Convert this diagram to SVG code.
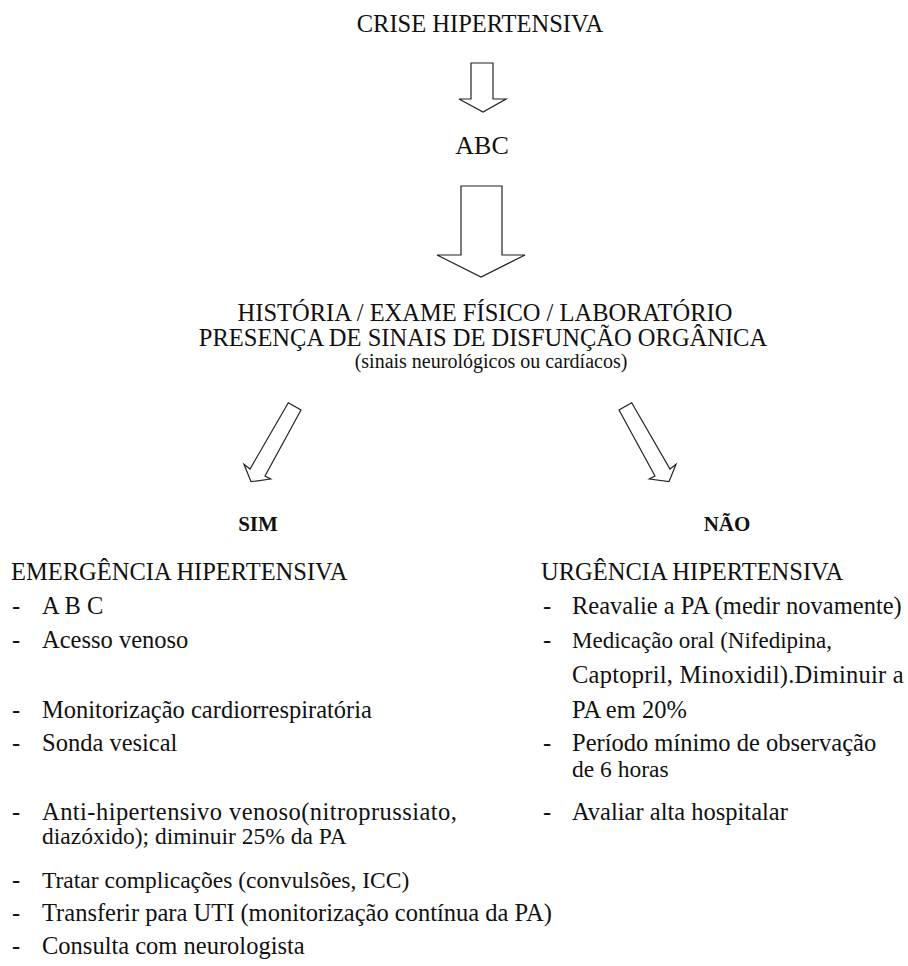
<svg xmlns="http://www.w3.org/2000/svg" width="908" height="966" viewBox="0 0 908 966">
<style>
text{font-family:"Liberation Serif","Times New Roman",serif;font-size:24.5px;fill:#111}
.c{text-anchor:middle}
.b{font-weight:bold;font-size:21px}
.s{font-size:20px}
.arrow{fill:#fff;stroke:#222;stroke-width:1.2;stroke-linejoin:miter}
</style>
<rect width="908" height="966" fill="#fff"/>
<g id="n-crise"><text class="c" x="480" y="32">CRISE HIPERTENSIVA</text></g>
<g id="n-abc"><text class="c" x="482" y="154" style="font-size:26px">ABC</text></g>
<g id="n-historia">
<text class="c" x="485" y="321">HISTÓRIA / EXAME FÍSICO / LABORATÓRIO</text>
<text class="c" x="483" y="346">PRESENÇA DE SINAIS DE DISFUNÇÃO ORGÂNICA</text>
<text class="c s" x="491" y="368">(sinais neurológicos ou cardíacos)</text>
</g>
<g id="n-sim"><text class="c b" x="258" y="531">SIM</text></g>
<g id="n-nao"><text class="c b" x="727" y="531">NÃO</text></g>
<g id="n-emergencia">
<text x="11" y="580">EMERGÊNCIA HIPERTENSIVA</text>
<text x="12" y="614">-</text><text x="42" y="614">A B C</text>
<text x="12" y="648">-</text><text x="42" y="648">Acesso venoso</text>
<text x="12" y="718">-</text><text x="42" y="718">Monitorização cardiorrespiratória</text>
<text x="12" y="751">-</text><text x="42" y="751">Sonda vesical</text>
<text x="12" y="820">-</text>
<text x="42" y="820"><tspan letter-spacing="0.45">Anti-hipertensivo venoso(nitroprussiato,</tspan><tspan x="42" y="844" style="font-size:23.5px">diazóxido); diminuir 25% da PA</tspan></text>
<text x="12" y="888">-</text><text x="42" y="888" style="font-size:23.5px">Tratar complicações (convulsões, ICC)</text>
<text x="12" y="921">-</text><text x="42" y="921">Transferir para UTI (monitorização contínua da PA)</text>
<text x="12" y="954">-</text><text x="42" y="954">Consulta com neurologista</text>
</g>
<g id="n-urgencia">
<text x="541" y="580">URGÊNCIA HIPERTENSIVA</text>
<text x="543" y="614">-</text><text x="572" y="614">Reavalie a PA (medir novamente)</text>
<text x="543" y="648">-</text><text x="572" y="648" style="font-size:23px">Medicação oral (Nifedipina,</text>
<text x="572" y="683" letter-spacing="0.25">Captopril, Minoxidil).Diminuir a</text>
<text x="572" y="718">PA em 20%</text>
<text x="543" y="751">-</text>
<text x="572" y="751">Período mínimo de observação<tspan x="572" y="777" style="font-size:23.5px">de 6 horas</tspan></text>
<text x="543" y="820">-</text><text x="572" y="820">Avaliar alta hospitalar</text>
</g>
<g id="connectors">
<polygon class="arrow" points="471,63 493,63 493,99 506,99 483,112 459,99 471,99"/>
<polygon class="arrow" points="461,186 502,186 502,255 525,255 481,277 437,255 461,255"/>
<polygon class="arrow" points="288.3,402.7 301,410 265,476 270.7,479 251,481.7 244,464.3 250,469"/>
<polygon class="arrow" points="631.7,402.7 619,410 655,476 649.3,479 669,481.7 676,464.3 670,469"/>
</g>
</svg>
